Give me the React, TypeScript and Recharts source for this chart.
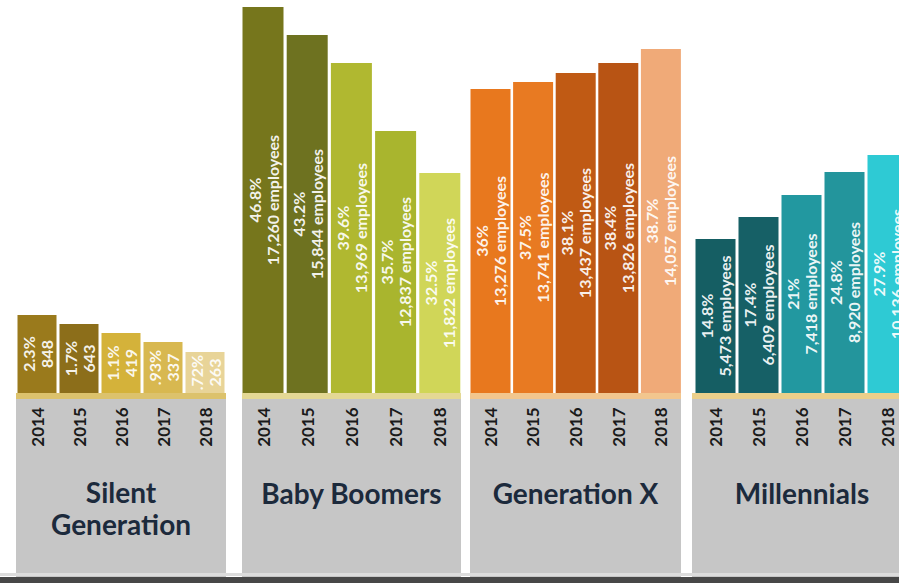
import React from 'react'
import { BarChart, Bar, XAxis, YAxis, Cell, LabelList } from 'recharts'

const years = ['2014', '2015', '2016', '2017', '2018']

// bar heights as drawn in the picture (the source graphic is not to scale)
const silentHeight = [78, 69, 60, 51, 41]
const boomerHeight = [386, 358, 330, 262, 220]
const genXHeight = [304, 311, 320, 330, 344]
const millennialHeight = [154, 176, 198, 221, 238]

const silentShare = ['2.3%', '1.7%', '1.1%', '.93%', '.72%']
const boomerShare = ['46.8%', '43.2%', '39.6%', '35.7%', '32.5%']
const genXShare = ['36%', '37.5%', '38.1%', '38.4%', '38.7%']
const millennialShare = ['14.8%', '17.4%', '21%', '24.8%', '27.9%']

const silentCount = ['848', '643', '419', '337', '263']
const boomerCount = ['17,260 employees', '15,844 employees', '13,969 employees', '12,837 employees', '11,822 employees']
const genXCount = ['13,276 employees', '13,741 employees', '13,437 employees', '13,826 employees', '14,057 employees']
const millennialCount = ['5,473 employees', '6,409 employees', '7,418 employees', '8,920 employees', '10,136 employees']

const FONT = 'Lato, "Open Sans", sans-serif'
const BASE = 393 // y of the bar baseline
const BOTTOM = 577

const groups = [
  {
    name: ['Silent', 'Generation'],
    heights: silentHeight, share: silentShare, count: silentCount,
    colors: ['#9a7a1c', '#8c6e1a', '#d4b23a', '#d8b850', '#e8d498'],
    strip: '#dcc26c', left: 16, width: 210, panelLeft: 16, panelWidth: 210,
  },
  {
    name: ['Baby Boomers'],
    heights: boomerHeight, share: boomerShare, count: boomerCount,
    colors: ['#76761c', '#6e7220', '#b0b830', '#a9b52e', '#d0d658'],
    strip: '#e4d894', left: 241, width: 221, panelLeft: 242, panelWidth: 219,
  },
  {
    name: ['Generation X'],
    heights: genXHeight, share: genXShare, count: genXCount,
    colors: ['#e8781e', '#e87a22', '#c05a14', '#b85414', '#f0aa78'],
    strip: '#f2c68e', left: 469, width: 213, panelLeft: 470, panelWidth: 211,
  },
  {
    name: ['Millennials'],
    heights: millennialHeight, share: millennialShare, count: millennialCount,
    colors: ['#155e63', '#166066', '#2298a0', '#23959c', '#2ecad4'],
    strip: '#ebcf8a', left: 694, width: 215, panelLeft: 692, panelWidth: 220,
  },
]

type Group = (typeof groups)[number]

const YearTick = (props: any) => {
  const { x, y, payload } = props
  const cy = y + 26
  return (
    <text
      x={x}
      y={cy}
      transform={`rotate(-90, ${x}, ${cy})`}
      textAnchor="middle"
      dominantBaseline="central"
      fontFamily={FONT}
      fontWeight={700}
      fontSize={17}
      fill="#1a1a1a"
    >
      {payload.value}
    </text>
  )
}

const renderLabel = (p: any, g: Group) => {
  const { x, y, width, height, index } = p
  const cx = Number(x) + Number(width) / 2
  const cy = Number(y) + Number(height) / 2
  const lines = [g.share[index], g.count[index]]
  return (
    <g>
      {lines.map((t, i) => {
        const lx = cx + (i === 0 ? -9 : 9)
        return (
          <text
            key={i}
            x={lx}
            y={cy}
            transform={`rotate(-90, ${lx}, ${cy})`}
            textAnchor="middle"
            dominantBaseline="central"
            fontFamily={FONT}
            fontWeight={700}
            fontSize={16}
            fill="#ffffff"
            fillOpacity={0.92}
          >
            {t}
          </text>
        )
      })}
    </g>
  )
}

function GroupChart({ g }: { g: Group }) {
  const rows = years.map((year, i) => ({ year, h: g.heights[i] }))
  return (
    <>
      <div
        style={{
          position: 'absolute',
          left: g.panelLeft,
          top: BASE,
          width: g.panelWidth,
          height: BOTTOM - BASE,
          background: '#c6c6c6',
          borderTop: `6px solid ${g.strip}`,
          boxSizing: 'border-box',
        }}
      >
        <div
          style={{
            position: 'absolute',
            left: 0,
            right: 0,
            top: g.name.length > 1 ? 77 : 78,
            textAlign: 'center',
            fontFamily: FONT,
            fontWeight: 700,
            fontSize: 28,
            lineHeight: '32px',
            color: '#1c2a3c',
            whiteSpace: 'nowrap',
          }}
        >
          {g.name.map((n) => (
            <div key={n}>{n}</div>
          ))}
        </div>
      </div>
      <div style={{ position: 'absolute', left: g.left, top: 0 }}>
        <BarChart
          width={g.width}
          height={BOTTOM}
          data={rows}
          margin={{ top: 0, right: 0, bottom: 0, left: 0 }}
          barCategoryGap={1.5}
        >
          <XAxis
            dataKey="year"
            height={BOTTOM - BASE}
            axisLine={false}
            tickLine={false}
            interval={0}
            tick={<YearTick />}
          />
          <YAxis hide domain={[0, BASE]} />
          <Bar dataKey="h" isAnimationActive={false}>
            {rows.map((r, i) => (
              <Cell key={r.year} fill={g.colors[i]} />
            ))}
            <LabelList dataKey="h" content={(p: any) => renderLabel(p, g)} />
          </Bar>
        </BarChart>
      </div>
    </>
  )
}

export default function App() {
  return (
    <div
      style={{
        position: 'absolute',
        left: 0,
        top: 0,
        width: 899,
        height: 583,
        overflow: 'hidden',
        background: '#ffffff',
      }}
    >
      {groups.map((g) => (
        <GroupChart key={g.name.join(' ')} g={g} />
      ))}
      <div style={{ position: 'absolute', left: 0, top: 573, width: 899, height: 3, background: '#dcdcdc' }} />
      <div style={{ position: 'absolute', left: 0, top: 577, width: 899, height: 6, background: '#474747' }} />
    </div>
  )
}
